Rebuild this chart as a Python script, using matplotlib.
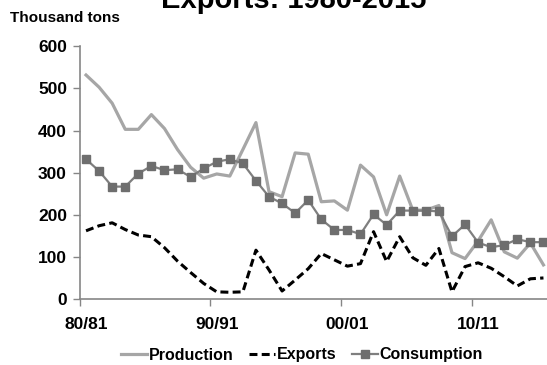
import matplotlib
matplotlib.use("Agg")
import matplotlib.pyplot as plt

plt.rcParams['font.family'] = ['Liberation Sans', 'DejaVu Sans']
plt.rcParams['font.weight'] = 'bold'

seasons = ["80/81", "81/82", "82/83", "83/84", "84/85", "85/86", "86/87", "87/88", "88/89", "89/90",
           "90/91", "91/92", "92/93", "93/94", "94/95", "95/96", "96/97", "97/98", "98/99", "99/00",
           "00/01", "01/02", "02/03", "03/04", "04/05", "05/06", "06/07", "07/08", "08/09", "09/10",
           "10/11", "11/12", "12/13", "13/14", "14/15", "15/16"]
production = [532, 503, 465, 403, 403, 438, 405, 355, 313, 287,
              297, 292, 355, 419, 255, 243, 347, 344, 231, 233,
              211, 318, 290, 200, 292, 211, 211, 222, 110, 96,
              138, 188, 112, 97, 133, 81]
exports = [162, 174, 181, 165, 152, 148, 122, 90, 63, 37,
           17, 16, 17, 116, 69, 19, 45, 72, 108, 93,
           78, 84, 160, 89, 148, 98, 80, 120, 17, 77,
           86, 73, 53, 31, 48, 50]
consumption = [332, 304, 267, 267, 298, 316, 306, 308, 290, 310,
               326, 332, 322, 281, 243, 227, 204, 235, 189, 164,
               164, 154, 201, 176, 210, 210, 210, 208, 149, 177,
               134, 123, 128, 142, 135, 135]
label_seasons = ["80/81", "90/91", "00/01", "10/11"]
yticks = [0, 100, 200, 300, 400, 500, 600]

W, H = 547, 365
fig = plt.figure(figsize=(W / 100, H / 100), dpi=100)
left, right, bottom_px, top_px = 79.5, 550, 299, 46.4
ax = fig.add_axes([left / W, (H - bottom_px) / H, (right - left) / W, (bottom_px - top_px) / H])

x = list(range(len(seasons)))
ax.plot(x, production, color='#A6A6A6', lw=2.3, label='Production')
ax.plot(x, exports, color='black', lw=2.2, dashes=(2.6, 1.4), label='Exports')
ax.plot(x, consumption, color='#7F7F7F', lw=1.6, marker='s', markersize=5.5,
        markerfacecolor='#6E6E6E', markeredgecolor='#6E6E6E', label='Consumption')

ax.set_xlim(-0.5, len(seasons) - 0.5)
ax.set_ylim(0, 600)
ax.set_yticks(yticks)
ax.set_yticklabels([str(v) for v in yticks], fontsize=12.5, fontweight='bold')

lab_idx = [seasons.index(s) for s in label_seasons]
ax.set_xticks([i - 0.5 for i in lab_idx])
ax.set_xticklabels([''] * len(lab_idx))
ax.set_xticks(lab_idx, minor=True)
ax.set_xticklabels(label_seasons, minor=True, fontsize=12.5, fontweight='bold')
ax.tick_params(axis='x', which='minor', length=0, pad=13)
ax.tick_params(axis='x', which='major', length=5, width=1, color='#868686', direction='out')
ax.tick_params(axis='y', length=5, width=1, color='#868686', direction='out', pad=4)

for s in ['top', 'right']:
    ax.spines[s].set_visible(False)
for s in ['left', 'bottom']:
    ax.spines[s].set_color('#868686')
    ax.spines[s].set_linewidth(1.2)

fig.text(10 / W, 1 - 18 / H, 'Thousand tons', fontsize=11, fontweight='bold', va='center', ha='left')
fig.text(294 / W, 1 - 8 / H, 'Exports: 1980-2015', fontsize=21, fontweight='bold',
         ha='center', va='baseline')

leg = fig.legend(loc='center', bbox_to_anchor=(302 / W, 1 - 355 / H), ncol=3, frameon=False,
                 prop={'weight': 'bold', 'size': 11.5}, handlelength=1.6, handletextpad=0.1,
                 columnspacing=1.0)

fig.savefig('out.png', dpi=100)
